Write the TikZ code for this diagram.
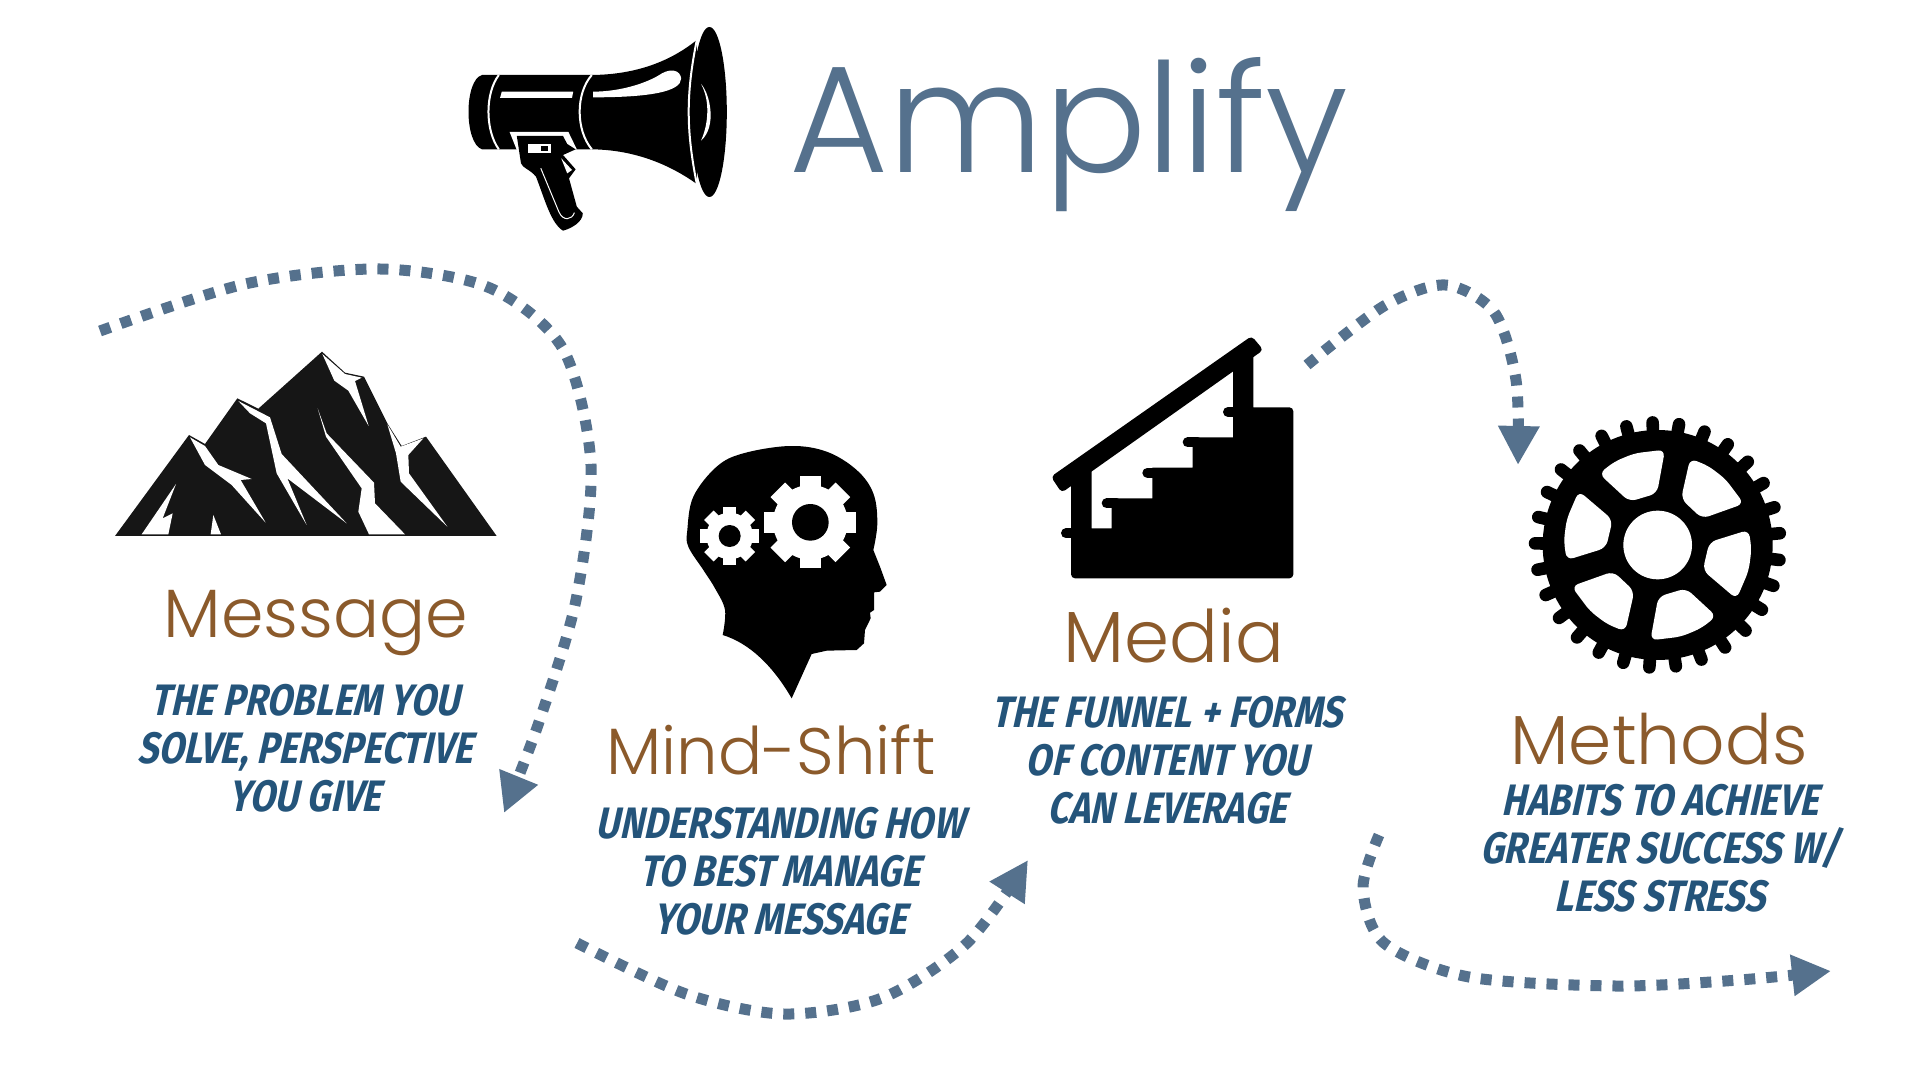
\documentclass[tikz,border=0pt]{standalone}
\usepackage{fontspec}
\usepackage{xcolor}
\usepackage{tikz}
\usetikzlibrary{
	arrows.meta,
	calc,
	positioning
}
\newfontfamily\headfont{Poppins Light}
\newfontfamily\brushfont[FakeStretch=.83,FakeSlant=.22]{Fira Sans Bold}
\definecolor{SlateBlue}{RGB}{85,113,141}
\definecolor{Umber}{RGB}{139,90,43}
\definecolor{InkBlue}{RGB}{36,84,122}
\definecolor{Rock}{RGB}{22,22,22}
\tikzset{
	titletext/.style={anchor=base, inner sep=0pt, text=SlateBlue, font=\headfont\fontsize{76}{76}\selectfont},
	headtext/.style={anchor=base, inner sep=0pt, text=Umber, font=\headfont\fontsize{#1}{#1}\selectfont},
	brushtext/.style={anchor=center, inner sep=0pt, align=center, text=InkBlue, font=\brushfont\fontsize{22}{24}\selectfont},
	flowline/.style={SlateBlue, line width=5.5pt, dash pattern=on 5.5pt off 5.5pt, -{Triangle[length=19.5pt,width=19.5pt]}},
	icon/.style={shift={#1}, scale=0.33333},
	nosing/.style={line width=5pt, line cap=round}
}
\newcommand{\whitegear}[6]{
	\fill[white] (#1,#2) circle (#4);
	\foreach \a in {0,45,...,315}
		\fill[white, shift={(#1,#2)}, rotate=\a] (#3,-#6) rectangle (#4-8,#6);
	\fill[black] (#1,#2) circle (#5);
}
\begin{document}
\begin{tikzpicture}[x=0.5pt, y=-0.5pt]
	\useasboundingbox (0,0) rectangle (1920,1080);

	\begin{scope}[shift={(440,10)}, xscale=0.6, yscale=0.33333]
		\fill[black] (70,195) -- (250,195) .. controls (320,195) and (380,160) .. (428,90) -- (428,522) .. controls (380,460) and (320,418) .. (250,418) -- (70,418) .. controls (40,400) and (40,210) .. (70,195) -- cycle;
		\fill[black] (449,306) ellipse (29 and 255);
		\draw[white, line width=1pt] (428,90) .. controls (410,250) and (410,360) .. (428,522);
		\fill[white] (435,222) .. controls (450,250) and (462,350) .. (435,392) .. controls (448,340) and (450,270) .. (435,222) -- cycle;
		\draw[white, line width=1pt] (98,195) .. controls (75,250) and (75,360) .. (98,418);
		\draw[white, line width=1pt] (253,195) .. controls (226,250) and (226,360) .. (253,418);
		\fill[white] (103,245) -- (222,245) -- (220,264) -- (100,264) -- cycle;
		\fill[white] (255,245) .. controls (300,245) and (345,220) .. (370,190) .. controls (385,175) and (400,180) .. (402,205) .. controls (402,245) and (350,262) .. (255,262) -- cycle;
		\fill[white] (116,366) -- (214,366) -- (228,418) -- (128,420) -- cycle;
		\fill[black] (128,378) -- (205,378) -- (212,402) -- (226,418) -- (205,435) -- (226,478) -- (215,505) -- (228,590) -- (238,610) .. controls (238,635) and (220,655) .. (205,662) .. controls (185,640) and (175,570) .. (160,500) .. controls (150,478) and (138,475) .. (135,460) -- cycle;
		\fill[white] (147,402) rectangle (185,428);
		\fill[black] (169,407) rectangle (180,423);
		\draw[white, line width=0.5pt] (168,475) -- (198,605) .. controls (205,635) and (220,630) .. (224,608);
		\fill[white] (202,445) -- (220,480) -- (212,490) -- cycle;
	\end{scope}
	\node[titletext] (amplify) at (1069,173) {Amplify};

	\coordinate (m1) at (100,331);
	\coordinate (m2) at (245,284);
	\coordinate (m3) at (380,269);
	\coordinate (m4) at (490,288);
	\coordinate (m5) at (563,349);
	\coordinate (m6) at (591,465);
	\coordinate (m7) at (576,600);
	\coordinate (m8) at (539,722);
	\coordinate (m9) at (504,813);
	\draw[flowline] plot[smooth] coordinates {(m1) (m2) (m3) (m4) (m5) (m6) (m7) (m8) (m9)};

	\coordinate (s1) at (577,943);
	\coordinate (s2) at (686,994);
	\coordinate (s3) at (784,1014);
	\coordinate (s4) at (882,998);
	\coordinate (s5) at (967,943);
	\coordinate (s6) at (1028,860);
	\draw[flowline] plot[smooth] coordinates {(s1) (s2) (s3) (s4) (s5) (s6)};

	\coordinate (d1) at (1307,365);
	\coordinate (d2) at (1384,306);
	\coordinate (d3) at (1445,285);
	\coordinate (d4) at (1494,312);
	\coordinate (d5) at (1516,380);
	\coordinate (d6) at (1518,465);
	\draw[flowline] plot[smooth] coordinates {(d1) (d2) (d3) (d4) (d5) (d6)};

	\coordinate (t1) at (1379,835);
	\coordinate (t2) at (1363,888);
	\coordinate (t3) at (1384,943);
	\coordinate (t4) at (1469,977);
	\coordinate (t5) at (1616,986);
	\coordinate (t6) at (1739,980);
	\coordinate (t7) at (1831,971);
	\draw[flowline] plot[smooth] coordinates {(t1) (t2) (t3) (t4) (t5) (t6) (t7)};

	\begin{scope}[icon={(90,330)}]
		\fill[Rock] (75,618) -- (297,315) -- (345,342) -- (442,205) -- (505,236) -- (696,65) -- (765,128) -- (822,140) -- (892,280) -- (935,348) -- (1008,320) -- (1220,618) -- cycle;
		\fill[white] (697,72) -- (765,132) -- (815,143) -- (795,153) -- (836,288) -- (775,182) -- (733,152) -- cycle;
		\fill[white] (445,213) -- (540,262) -- (575,372) -- (770,580) -- (592,445) -- (650,585) -- (560,430) -- (528,280) -- (480,250) -- cycle;
		\fill[white] (300,322) -- (345,348) -- (385,405) -- (485,447) -- (452,450) -- (527,578) -- (425,465) -- (345,405) -- cycle;
		\fill[white] (683,235) -- (710,310) -- (852,458) -- (855,520) -- (945,613) -- (837,613) -- (805,545) -- (815,475) -- (708,320) -- cycle;
		\fill[white] (892,283) -- (932,350) -- (1000,325) -- (955,375) -- (957,430) -- (1072,590) -- (932,455) -- (918,370) -- cycle;
		\fill[white] (258,462) -- (218,565) -- (248,550) -- (235,613) -- (155,613) -- cycle;
		\fill[white] (370,555) -- (393,613) -- (362,613) -- cycle;
	\end{scope}

	\begin{scope}[icon={(660,430)}]
		\fill[black] plot[smooth, tension=0.6] coordinates {(188,615) (195,540) (165,475) (130,420) (85,350) (82,300) (100,200) (170,110) (250,70) (390,48) (500,65) (590,120) (640,190) (652,280) (640,360)} -- (660,410) -- (680,465) -- (660,485) -- (642,487) -- (642,540) -- (630,548) -- (632,565) -- (615,600) -- (612,640) -- (590,660) -- (500,662) -- (455,672) -- (395,805) .. controls (340,710) and (270,640) .. (188,615) -- cycle;
		\whitegear{451}{277}{138}{112}{55}{31}
		\whitegear{209}{318}{88}{70}{33}{20}
	\end{scope}

	\begin{scope}[icon={(1030,320)}]
		\fill[black, rounded corners=2pt] (63,470) -- (665,48) -- (700,90) -- (95,518) -- cycle;
		\fill[black] (123,480) -- (185,440) -- (185,625) -- (245,625) -- (245,535) -- (367,535) -- (367,443) -- (488,443) -- (488,352) -- (609,352) -- (609,100) -- (670,90) -- (670,262) [rounded corners=2pt] -- (790,262) -- (790,775) -- (123,775) [sharp corners] -- (123,640) -- cycle;
		\foreach \nx/\ny in {108/640,230/550,352/458,473/367,594/276}
			\draw[nosing] (\nx,\ny) -- ++(30,0);
	\end{scope}

	\begin{scope}[icon={(1500,400)}]
		\fill[black] (473,435) circle (345);
		\foreach \i in {0,...,28}
			\draw[black, line width=6.3pt, line cap=round, shift={(473,435)}, rotate=5.5+\i*12.41] (320,0) -- (368,0);
		\fill[white] (473,435) circle (103);
		\foreach \a in {0,60,...,300}
			\fill[white, rounded corners=3.5pt, shift={(473,435)}, rotate=\a] (22,-286) -- (-2,-155) -- (-85,-130) -- (-176,-214) -- (-130,-250) -- (-70,-275) -- cycle;
	\end{scope}

	\node[headtext=34.2] (message) at (316,637) {Message};
	\node[headtext=32.8] (mindshift) at (771,774) {Mind-Shift};
	\node[headtext=36.2] (media) at (1174,662) {Media};
	\node[headtext=34.7] (methods) at (1659,764) {Methods};

	\node[brushtext] (messagenote) at (305,748) {THE PROBLEM YOU\\SOLVE, PERSPECTIVE\\YOU GIVE};
	\node[brushtext] (mindshiftnote) at (780,871) {UNDERSTANDING HOW\\TO BEST MANAGE\\YOUR MESSAGE};
	\node[brushtext] (medianote) at (1167,760) {THE FUNNEL + FORMS\\OF CONTENT YOU\\CAN LEVERAGE};
	\node[brushtext] (methodsnote) at (1660,848) {HABITS TO ACHIEVE\\GREATER SUCCESS W/\\LESS STRESS};
\end{tikzpicture}
\end{document}
